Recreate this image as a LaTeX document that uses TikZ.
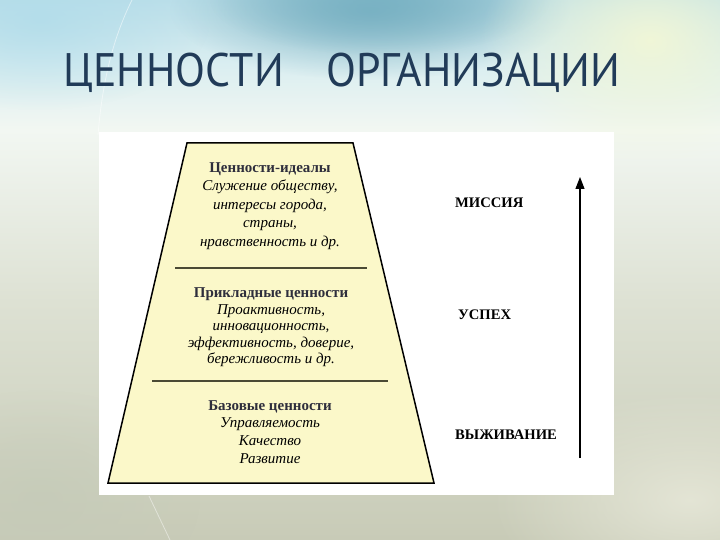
\documentclass[tikz,border=0pt]{standalone}
\usepackage{fontspec}
\setmainfont{Liberation Serif}
\newfontfamily\titlefont{PT Sans}
\usetikzlibrary{arrows.meta,fadings}
\definecolor{titleblue}{HTML}{213B58}
\definecolor{trapfill}{HTML}{FBF8C9}
\definecolor{headcol}{HTML}{2E2E3C}
\definecolor{sepcol}{HTML}{4A4A34}
\definecolor{bgA}{HTML}{BCDFE9}
\definecolor{bgB}{HTML}{DAEEF1}
\definecolor{bgC}{HTML}{F2F7F2}
\definecolor{bgD}{HTML}{DDE1D3}
\definecolor{bgE}{HTML}{C8CBB7}
\definecolor{glowteal}{HTML}{6FA9BB}
\definecolor{glowteal2}{HTML}{78B2C4}
\definecolor{glowyellow}{HTML}{F2F7D6}
\definecolor{glowcyan}{HTML}{B0DCEA}
\definecolor{glowbr}{HTML}{E6E7D8}
\definecolor{glowbl}{HTML}{C4CAB8}
\pgfdeclareverticalshading{bgvert}{100bp}{color(0bp)=(bgE); color(25bp)=(bgE); color(47bp)=(bgD); color(63bp)=(bgC); color(69bp)=(bgB); color(75bp)=(bgA); color(100bp)=(bgA)}
\tikzfading[name=softglow, inner color=transparent!0, outer color=transparent!100]
\tikzset{
  titletext/.style={font=\titlefont\fontsize{47}{47}\selectfont, text=titleblue, anchor=base west, inner sep=0pt, xscale=0.93},
  blocktext/.style={align=center, inner sep=0pt, text=black},
  sidelabel/.style={font=\bfseries\fontsize{14.6}{16}\selectfont, anchor=west, inner sep=0pt, text=black},
  sepline/.style={draw=sepcol, line width=1.1pt},
  glow/.style={path fading=softglow}
}
\begin{document}
\begin{tikzpicture}[x=1pt,y=-1pt]
\useasboundingbox (0,0) rectangle (720,540);
% background
\shade[shading=bgvert] (0,0) rectangle (720,540);
\fill[glowteal, glow, opacity=0.85] (370,10) ellipse (200 and 70);
\fill[glowteal2, glow, opacity=0.8] (380,0) ellipse (170 and 55);
\fill[glowyellow, glow, opacity=0.95] (650,40) ellipse (170 and 120);
\fill[glowcyan, glow, opacity=0.8] (40,20) ellipse (170 and 90);
\fill[glowbr, glow, opacity=0.9] (690,500) ellipse (200 and 110);
\fill[glowbl, glow, opacity=0.7] (40,500) ellipse (160 and 110);
\draw[white, opacity=0.5, line width=0.8pt] (132,0) .. controls (112,40) and (102,85) .. (98,135);
\draw[white, opacity=0.45, line width=0.8pt] (149,496) -- (170,540);
% title
\node[titletext] (t1) at (63,87) {ЦЕННОСТИ};
\node[titletext] (t2) at (326,87) {ОРГАНИЗАЦИИ};
% white panel
\fill[white] (99,132) rectangle (614,495);
% trapezoid
\coordinate (tl) at (187,143);
\coordinate (tr) at (353,143);
\coordinate (br) at (434,483);
\coordinate (bl) at (108,483);
\filldraw[fill=trapfill, draw=black, line width=1.5pt, line join=miter] (tl) -- (tr) -- (br) -- (bl) -- cycle;
\coordinate (s1a) at (175,268); \coordinate (s1b) at (367,268);
\coordinate (s2a) at (152,381); \coordinate (s2b) at (388,381);
\draw[sepline] (s1a) -- (s1b);
\draw[sepline] (s2a) -- (s2b);
% block texts
\node[blocktext, font=\fontsize{15}{18.5}\selectfont] (b1) at (270,206) {{\bfseries\color{headcol}Ценности-идеалы}\\\itshape Служение обществу,\\\itshape интересы города,\\\itshape страны,\\\itshape нравственность и др.};
\node[blocktext, font=\fontsize{15}{16.5}\selectfont] (b2) at (271,327.5) {{\bfseries\color{headcol}Прикладные ценности}\\\itshape Проактивность,\\\itshape инновационность,\\\itshape эффективность, доверие,\\\itshape бережливость и др.};
\node[blocktext, font=\fontsize{15}{17.7}\selectfont] (b3) at (270,432) {{\bfseries\color{headcol}Базовые ценности}\\\itshape Управляемость\\\itshape Качество\\\itshape Развитие};
% side labels
\node[sidelabel] (m) at (455,203) {МИССИЯ};
\node[sidelabel] (u) at (458,315) {УСПЕХ};
\node[sidelabel] (v) at (455,435) {ВЫЖИВАНИЕ};
% arrow
\coordinate (abot) at (580,458);
\coordinate (atop) at (580,177);
\draw[line width=1.1pt, -{Triangle[length=12pt,width=9pt]}] (abot) -- (atop);
\end{tikzpicture}
\end{document}
